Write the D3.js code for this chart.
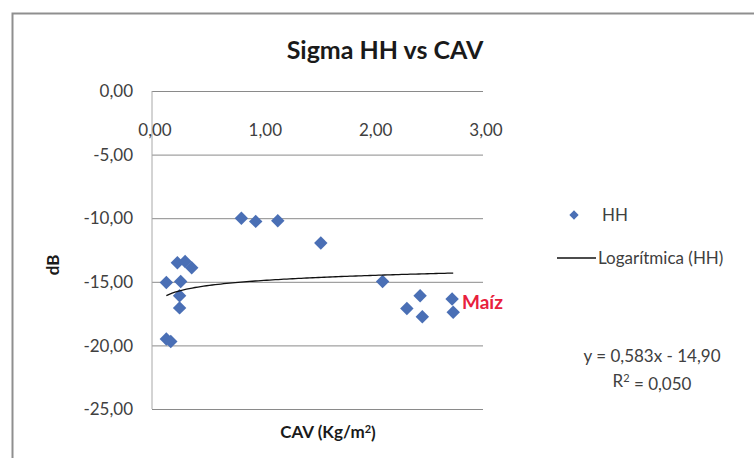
<!DOCTYPE html>
<html>
<head>
<meta charset="utf-8">
<script src="https://cdn.jsdelivr.net/npm/d3@7"></script>
<style>
  html, body { margin: 0; padding: 0; background: #ffffff; }
  svg { display: block; }
  text { font-family: Lato, "Open Sans", sans-serif; }
</style>
</head>
<body>
<svg id="chart" width="754" height="458"></svg>
<script>
// Backscatter (HH) against crop water content (CAV)
const cav = [0.13, 0.26, 0.23, 0.30, 0.36, 0.25, 0.25, 0.13, 0.17,
             0.81, 0.94, 1.14, 1.53, 2.09, 2.43, 2.31, 2.45, 2.72, 2.73];
const hh  = [-15.05, -14.98, -13.5, -13.4, -13.9, -16.1, -17.05, -19.5, -19.7,
             -10.0, -10.25, -10.2, -11.95, -14.98, -16.1, -17.1, -17.75, -16.35, -17.4];

// Logarithmic trendline coefficients, as printed in the equation box
const trendA = 0.583;
const trendB = -14.90;
const trendR2 = 0.050;

const xTicks = [0, 1, 2, 3];
const yTicks = [0, -5, -10, -15, -20, -25];

// comma decimals, plain hyphen for negatives
const fmt = v => d3.format(".2f")(v).replace("\u2212", "-").replace(".", ",");

const svg = d3.select("#chart");

// chart frame
svg.append("rect")
  .attr("x", 12.5).attr("y", 13.5)
  .attr("width", 800).attr("height", 500)
  .attr("fill", "#ffffff")
  .attr("stroke", "#8f8f8f").attr("stroke-width", 2);

const plot = { left: 152, right: 483, top: 91, bottom: 409 };

const x = d3.scaleLinear().domain([0, 3]).range([plot.left, plot.right]);
const y = d3.scaleLinear().domain([-25, 0]).range([plot.bottom, plot.top]);

// horizontal gridlines
svg.append("g")
  .attr("transform", `translate(${plot.left},0)`)
  .call(d3.axisLeft(y).tickValues(yTicks).tickSize(-(plot.right - plot.left)).tickFormat(""))
  .call(g => g.select(".domain").remove())
  .call(g => g.selectAll("line").attr("stroke", "#8a8a8a").attr("stroke-width", 1));

// vertical axis line
svg.append("line")
  .attr("x1", plot.left).attr("x2", plot.left)
  .attr("y1", plot.top).attr("y2", plot.bottom)
  .attr("stroke", "#a8a8a8").attr("stroke-width", 1);

// y tick labels
svg.append("g")
  .selectAll("text")
  .data(yTicks)
  .join("text")
  .attr("x", 133)
  .attr("y", d => y(d))
  .attr("dy", "0.36em")
  .attr("text-anchor", "end")
  .attr("font-size", 17)
  .attr("fill", "#404040")
  .text(d => fmt(d));

// x tick labels (drawn below the zero line at the top)
svg.append("g")
  .selectAll("text")
  .data(xTicks)
  .join("text")
  .attr("x", d => x(d) + 3)
  .attr("y", 130)
  .attr("dy", "0.36em")
  .attr("text-anchor", "middle")
  .attr("font-size", 17)
  .attr("fill", "#404040")
  .text(d => fmt(d));

// title
svg.append("text")
  .attr("x", 385).attr("y", 50)
  .attr("dy", "0.36em")
  .attr("text-anchor", "middle")
  .attr("font-size", 25)
  .attr("font-weight", "bold")
  .attr("fill", "#1a1a1a")
  .text("Sigma HH vs CAV");

// axis titles
svg.append("text")
  .attr("transform", "translate(53,265) rotate(-90)")
  .attr("dy", "0.36em")
  .attr("text-anchor", "middle")
  .attr("font-size", 17)
  .attr("font-weight", "bold")
  .attr("fill", "#1a1a1a")
  .text("dB");

const xt = svg.append("text")
  .attr("x", 328).attr("y", 432)
  .attr("dy", "0.36em")
  .attr("text-anchor", "middle")
  .attr("font-size", 17)
  .attr("font-weight", "bold")
  .attr("fill", "#1a1a1a");
xt.append("tspan").text("CAV (Kg/m");
xt.append("tspan").attr("font-size", 11).attr("dy", "-0.5em").text("2");
xt.append("tspan").attr("dy", "0.35em").text(")");

// data points
const diamond = d3.symbol().type(d3.symbolDiamond2).size(115);
svg.append("g")
  .selectAll("path")
  .data(cav.map((c, i) => [c, hh[i]]))
  .join("path")
  .attr("transform", d => `translate(${x(d[0])},${y(d[1])})`)
  .attr("d", diamond)
  .attr("fill", "#4a6fb5");

// logarithmic trendline over the range of the data
const xMin = d3.min(cav), xMax = d3.max(cav);
const trendXs = d3.range(0, 101).map(i => xMin + (xMax - xMin) * i / 100);
svg.append("path")
  .datum(trendXs)
  .attr("fill", "none")
  .attr("stroke", "#111111")
  .attr("stroke-width", 1.3)
  .attr("d", d3.line().x(d => x(d)).y(d => y(trendA * Math.log(d) + trendB)));

// annotation
svg.append("text")
  .attr("x", 462).attr("y", 302)
  .attr("dy", "0.36em")
  .attr("font-size", 19)
  .attr("font-weight", "bold")
  .attr("fill", "#e8203c")
  .text("Maíz");

// legend
const legend = svg.append("g");
legend.append("path")
  .attr("transform", "translate(574,215)")
  .attr("d", d3.symbol().type(d3.symbolDiamond2).size(55))
  .attr("fill", "#4a6fb5");
legend.append("text")
  .attr("x", 602).attr("y", 215).attr("dy", "0.36em")
  .attr("font-size", 17).attr("fill", "#404040")
  .text("HH");
legend.append("line")
  .attr("x1", 557).attr("x2", 596)
  .attr("y1", 258).attr("y2", 258)
  .attr("stroke", "#111111").attr("stroke-width", 1.3);
legend.append("text")
  .attr("x", 598).attr("y", 258).attr("dy", "0.36em")
  .attr("font-size", 17).attr("fill", "#404040")
  .text("Logarítmica (HH)");

// trendline equation
const eq = svg.append("g").attr("font-size", 17).attr("fill", "#404040").attr("text-anchor", "middle");
eq.append("text")
  .attr("x", 652).attr("y", 356).attr("dy", "0.36em")
  .text(`y = ${d3.format(".3f")(trendA).replace(".", ",")}x - ${d3.format(".2f")(-trendB).replace(".", ",")}`);
const r2 = eq.append("text")
  .attr("x", 652).attr("y", 381).attr("dy", "0.36em");
r2.append("tspan").text("R");
r2.append("tspan").attr("font-size", 11).attr("dy", "-0.5em").text("2");
r2.append("tspan").attr("dy", "0.5em").text(` = ${d3.format(".3f")(trendR2).replace(".", ",")}`);
</script>
</body>
</html>
